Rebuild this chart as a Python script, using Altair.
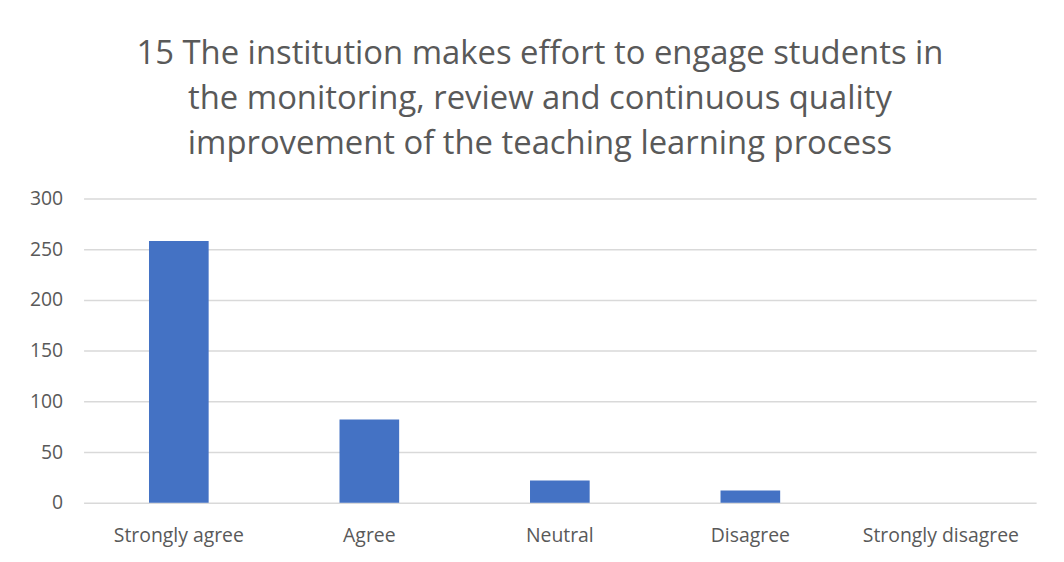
import altair as alt
import pandas as pd

categories = ["Strongly agree", "Agree", "Neutral", "Disagree", "Strongly disagree"]
counts = [258, 82, 22, 12, 0]

df = pd.DataFrame({"category": categories, "count": counts})

title_lines = [
    "15 The institution makes effort to engage students in",
    "the monitoring, review and continuous quality",
    "improvement of the teaching learning process",
]

bars = alt.Chart(df).mark_bar(color="#4472C4", size=60).encode(
    x=alt.X("category:N", sort=categories, title=None,
            scale=alt.Scale(paddingInner=0, paddingOuter=0),
            axis=alt.Axis(labelAngle=0, ticks=False, domain=False, labelPadding=24,
                          labelFontSize=19.5, labelColor="#595959", labelFont="Open Sans")),
    y=alt.Y("count:Q", title=None,
            scale=alt.Scale(domain=[0, 300]),
            axis=alt.Axis(values=[0, 50, 100, 150, 200, 250, 300], ticks=False, domain=False,
                          labelPadding=21, labelFontSize=19.5, labelColor="#595959",
                          labelFont="Open Sans", gridColor="#d9d9d9", gridWidth=1.5)),
)

chart = bars.properties(
    width=958,
    height=306,
    title=alt.TitleParams(
        text=title_lines,
        fontSize=33,
        font="Open Sans",
        fontWeight="normal",
        color="#595959",
        anchor="middle",
        dx=-20,
        offset=28,
        lineHeight=45,
    ),
    padding={"left": 76, "top": 190, "right": 20, "bottom": 56},
    autosize=alt.AutoSizeParams(type="none"),
).configure_view(stroke=None)

chart.save("out.html", embed_options={"renderer": "svg", "actions": False})
